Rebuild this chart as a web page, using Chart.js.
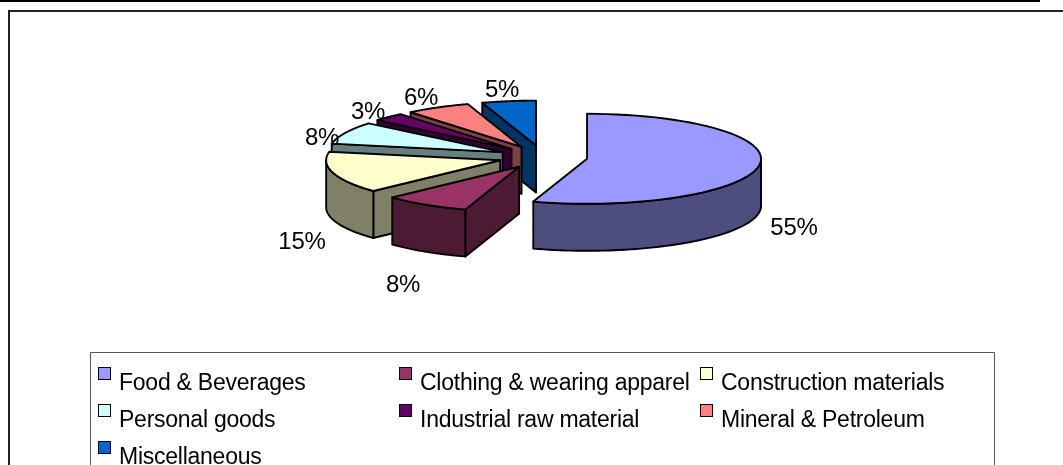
<!DOCTYPE html>
<html><head><meta charset="utf-8">
<style>html,body{margin:0;padding:0;background:#fff;overflow:hidden}canvas{display:block}</style>
<script src="https://cdn.jsdelivr.net/npm/chart.js@4"></script>
</head><body>
<canvas id="c" width="1063" height="465"></canvas>
<script>
const categories = ["Food & Beverages","Clothing & wearing apparel","Construction materials","Personal goods","Industrial raw material","Mineral & Petroleum","Miscellaneous"];
const shares = [55,8,15,8,3,6,5];
const topColors = ["#9999FF","#993366","#FFFFCC","#CCFFFF","#660066","#FF8080","#0066CC"];
const sideColors = ["#4D4D80","#4D1A33","#808066","#668080","#330033","#804040","#003366"];

const RADIUS = 174, SQUASH = 45/174, DEPTH = 47, EXPLODE = 44.6;
const FONT = '23px "Liberation Sans", Arial, sans-serif';
const labelFont = '24px "Liberation Sans", Arial, sans-serif';
const labelAnchors = [[794,227],[403,284],[302,241],[322,137],[368,111],[421,97],[502,89]];
const legendCols = [98,399,700], legendRows = [367,404,441];
const total = shares.reduce((a,b)=>a+b,0);

function geom(arc){
  const p = arc.getProps(['x','y','startAngle','endAngle','outerRadius'], true);
  const mid = (p.startAngle+p.endAngle)/2;
  const dx = Math.cos(mid)*EXPLODE, dy = Math.sin(mid)*EXPLODE;
  return {s:p.startAngle, e:p.endAngle, r:p.outerRadius, dx, dy,
    ax:p.x + dx, ay:p.y + dy*SQUASH};
}
function pt(g,a){ return [g.ax+Math.cos(a)*g.r, g.ay+Math.sin(a)*g.r*SQUASH]; }
function face(ctx,pts,fill){
  ctx.beginPath(); pts.forEach((q,i)=> i?ctx.lineTo(q[0],q[1]):ctx.moveTo(q[0],q[1])); ctx.closePath();
  ctx.fillStyle=fill; ctx.fill(); ctx.stroke();
}
function radial(ctx,g,a,fill){
  const q=pt(g,a);
  face(ctx,[[g.ax,g.ay],q,[q[0],q[1]+DEPTH],[g.ax,g.ay+DEPTH]],fill);
}
function wall(ctx,g,fill){
  const a0=Math.max(g.s,0), a1=Math.min(g.e,Math.PI);
  if(a1<=a0) return;
  const up=[],dn=[];
  for(let i=0;i<=60;i++){const a=a0+(a1-a0)*i/60,q=pt(g,a);up.push(q);dn.unshift([q[0],q[1]+DEPTH]);}
  face(ctx,up.concat(dn),fill);
}
const pie3d = {
  id:'pie3d',
  beforeDraw(chart){
    const ctx=chart.ctx; ctx.save();
    ctx.fillStyle='#fff'; ctx.fillRect(0,0,1063,465);
    ctx.fillStyle='#000'; ctx.fillRect(0,0,1040,2);
    ctx.fillStyle='#222'; ctx.fillRect(8,10,1055,2); ctx.fillRect(8,10,2,455);
    ctx.strokeStyle='#555'; ctx.lineWidth=1;
    ctx.beginPath(); ctx.moveTo(90.5,470); ctx.lineTo(90.5,352.5); ctx.lineTo(994.5,352.5); ctx.lineTo(994.5,470); ctx.stroke();
    ctx.restore();
  },
  beforeDatasetDraw(chart,args){
    const ctx=chart.ctx, arcs=args.meta.data;
    ctx.save(); ctx.lineJoin='round'; ctx.strokeStyle='#000'; ctx.lineWidth=1.9;
    for(let i=arcs.length-1;i>=0;i--){
      const arc=arcs[i], g=geom(arc), side=sideColors[i];
      if(Math.cos(g.s)< -1e-6) radial(ctx,g,g.s,side);
      if(Math.cos(g.e)>1e-6) radial(ctx,g,g.e,side);
      wall(ctx,g,side);
      ctx.save();
      ctx.translate(g.dx,arc.y+g.dy*SQUASH); ctx.scale(1,SQUASH); ctx.translate(0,-arc.y);
      arc.draw(ctx);
      ctx.restore();
      ctx.beginPath(); ctx.moveTo(g.ax,g.ay);
      for(let k=0;k<=60;k++){const q=pt(g,g.s+(g.e-g.s)*k/60);ctx.lineTo(q[0],q[1]);}
      ctx.closePath(); ctx.stroke();
    }
    ctx.restore();
    return false;
  },
  afterDraw(chart){
    const ctx=chart.ctx; ctx.save();
    ctx.font=labelFont; ctx.fillStyle='#000'; ctx.textBaseline='alphabetic';
    ctx.letterSpacing='-0.25px';
    ctx.textAlign='center';
    shares.forEach((v,i)=>{ ctx.fillText(Math.round(v/total*100)+'%',labelAnchors[i][0],labelAnchors[i][1]+8); });
    ctx.textAlign='left'; ctx.font=FONT;
    categories.forEach((name,i)=>{
      const x=legendCols[i%3], y=legendRows[Math.floor(i/3)];
      ctx.fillStyle=topColors[i]; ctx.fillRect(x,y,13,13);
      ctx.strokeStyle='#000'; ctx.lineWidth=1; ctx.strokeRect(x+.5,y+.5,12,12);
      ctx.fillStyle='#000'; ctx.fillText(name,x+21,y+23);
    });
    ctx.restore();
  }
};
new Chart(document.getElementById('c'),{
  type:'pie',
  data:{labels:categories,datasets:[{data:shares,backgroundColor:topColors,borderWidth:0}]},
  options:{responsive:false,animation:false,radius:RADIUS,
    layout:{padding:{left:23,right:0,top:0,bottom:151}},
    plugins:{legend:{display:false},tooltip:{enabled:false}}},
  plugins:[pie3d]
});
</script>
</body></html>
